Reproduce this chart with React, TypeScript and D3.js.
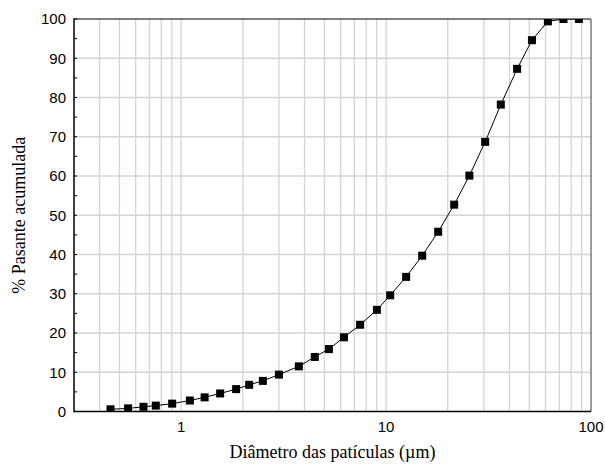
import React from 'react';
import * as d3 from 'd3';

// particle diameter (um) and cumulative passing (%)
const diameters = [0.452, 0.551, 0.655, 0.752, 0.904, 1.103, 1.302, 1.55, 1.855, 2.147, 2.505, 3.0, 3.753, 4.49, 5.26, 6.23, 7.47, 9.02, 10.47, 12.53, 15.0, 17.96, 21.5, 25.5, 30.45, 36.3, 43.6, 51.5, 61.6, 73.4, 87.3];
const passing = [0.56, 0.8, 1.2, 1.5, 2.0, 2.8, 3.6, 4.6, 5.7, 6.8, 7.8, 9.4, 11.5, 13.9, 15.9, 18.9, 22.1, 25.9, 29.6, 34.3, 39.7, 45.8, 52.7, 60.1, 68.7, 78.2, 87.3, 94.6, 99.4, 100, 100];

const xTickLabels = [1, 10, 100];
const yTickLabels = [0, 10, 20, 30, 40, 50, 60, 70, 80, 90, 100];

const App = () => {
  const width = 605, height = 468;
  const left = 74, right = 591, top = 19, bottom = 411.5;

  const xScale = d3.scaleLog().domain([0.3, 100]).range([left, right]);
  const yScale = d3.scaleLinear().domain([0, 100]).range([bottom, top]);

  const data = diameters.map((d, i) => ({ x: d, y: passing[i] }));

  // minor log gridlines 0.4 .. 100
  const xGrid: number[] = [];
  [0.1, 1, 10].forEach(dec => {
    for (let k = 1; k <= 9; k++) {
      const v = +(dec * k).toFixed(4);
      if (v > 0.3 && v < 100) xGrid.push(v);
    }
  });
  const yMinor = d3.range(0, 101, 5);

  const line = d3.line<{ x: number, y: number }>()
    .x(d => xScale(d.x))
    .y(d => yScale(d.y));

  const sq = 8;

  return (
    <svg width={width} height={height} style={{ position: 'absolute', left: 0, top: 0, background: '#fff' }}>
      <defs>
        <clipPath id="plot">
          <rect x={left} y={top} width={right - left} height={bottom - top} />
        </clipPath>
      </defs>
      <g id="grid" stroke="#d4d4d4" strokeWidth={1.3}>
        {xGrid.map((v, i) => <line key={'vx' + i} x1={xScale(v)} x2={xScale(v)} y1={top} y2={bottom} />)}
        {yTickLabels.slice(1, -1).map((v, i) => <line key={'hy' + i} x1={left} x2={right} y1={yScale(v)} y2={yScale(v)} />)}
      </g>
      <g clipPath="url(#plot)">
        <path d={line(data) || ''} fill="none" stroke="#000" strokeWidth={1} />
        {data.map((d, i) => (
          <rect key={i} x={xScale(d.x) - sq / 2} y={yScale(d.y) - sq / 2} width={sq} height={sq} fill="#000" />
        ))}
      </g>
      {/* frame */}
      <line x1={left} x2={right} y1={top} y2={top} stroke="#000" strokeWidth={1} />
      <line x1={right} x2={right} y1={top} y2={bottom} stroke="#7a7a7a" strokeWidth={1.5} />
      <line x1={left} x2={left} y1={top - 0.5} y2={bottom + 0.75} stroke="#000" strokeWidth={1.5} />
      <line x1={left} x2={right} y1={bottom} y2={bottom} stroke="#000" strokeWidth={1.5} />
      {yMinor.map((v, i) => (
        <line key={'t' + i} x1={left} x2={left + 3} y1={yScale(v)} y2={yScale(v)} stroke="#000" strokeWidth={1} />
      ))}
      <g fontFamily="'Liberation Sans', Arial, sans-serif" fontSize="15" fill="#000">
        {yTickLabels.map((v, i) => (
          <text key={'yl' + i} x={66} y={yScale(v)} dy="0.36em" textAnchor="end">{v}</text>
        ))}
        {xTickLabels.map((v, i) => (
          <text key={'xl' + i} x={xScale(v)} y={432} textAnchor="middle">{v}</text>
        ))}
      </g>
      <g fontFamily="'Liberation Serif', 'Times New Roman', serif" fontSize="18" fill="#000">
        <text x={(left + right) / 2} y={458} textAnchor="middle">Diâmetro das patículas (µm)</text>
        <text transform={`translate(25, ${(top + bottom) / 2}) rotate(-90)`} textAnchor="middle">% Pasante acumulada</text>
      </g>
    </svg>
  );
};

export default App;
